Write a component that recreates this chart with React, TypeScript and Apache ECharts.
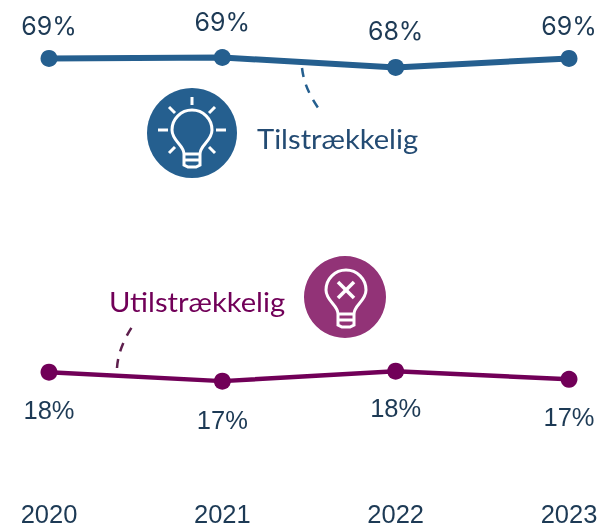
import React, { useEffect, useRef } from "react";
import * as echarts from "echarts";

const years = ["2020", "2021", "2022", "2023"];
const sufficient = [69, 69.1, 68, 69];
const insufficient = [18, 17, 18.1, 17.2];
const sufficientLabels = ["69%", "69%", "68%", "69%"];
const insufficientLabels = ["18%", "17%", "18%", "17%"];
const sufficientLabelShift = [-1, -5, -5, -1];
const insufficientLabelShift = [2, 3, 1, 2];

const BLUE = "#255f8f";
const PURPLE = "#710058";
const BADGE = "#923377";
const INK = "#1d3a55";

const bulbPath =
  "M -8 22 C -8 13 -20 9 -20 -2 A 20 20 0 1 1 20 -2 C 20 9 8 13 8 22 Z M -8 22 L -8 33 L -4 35 L 4 35 L 8 33 L 8 22 M -8 28 L 7 28";
echarts.graphic.registerShape("bulbIcon", echarts.graphic.extendPath(bulbPath, {}) as any);

export default function App() {
  const ref = useRef<HTMLDivElement>(null);
  useEffect(() => {
    const chart = echarts.init(ref.current!, undefined, { renderer: "svg" });
    const ray = (x1: number, y1: number, x2: number, y2: number, lineWidth = 3) => ({
      type: "line",
      shape: { x1, y1, x2, y2 },
      style: { stroke: "#fff", lineWidth },
    });
    const seriesOf = (
      name: string,
      yAxisIndex: number,
      data: number[],
      labels: string[],
      shift: number[],
      color: string,
      width: number,
      position: "top" | "bottom",
      fontFamily: string,
      fontSize: number
    ) => ({
      name,
      type: "line",
      yAxisIndex,
      symbol: "circle",
      symbolSize: 17,
      lineStyle: { color, width },
      itemStyle: { color },
      silent: true,
      data: data.map((value, i) => ({
        value,
        label: {
          show: true,
          position,
          distance: position === "top" ? 10 : 14,
          offset: [0, shift[i]],
          formatter: labels[i],
          color: INK,
          fontSize,
          fontFamily,
        },
      })),
    });
    chart.setOption({
      animation: false,
      grid: { left: 49, right: 32, top: 0.5, bottom: 26.5, containLabel: false },
      xAxis: {
        type: "category",
        data: years,
        boundaryGap: false,
        axisLine: { show: false },
        axisTick: { show: false },
        axisLabel: {
          color: INK,
          fontSize: 25.5,
          fontFamily: "Liberation Sans",
          margin: 1,
          verticalAlign: "top",
          hideOverlap: false,
          interval: 0,
        },
      },
      yAxis: [
        { type: "value", min: 19.89, max: 75.44, show: false, splitLine: { show: false } },
        { type: "value", min: 3.78, max: 59.33, show: false, splitLine: { show: false } },
      ],
      series: [
        seriesOf("Tilstrækkelig", 0, sufficient, sufficientLabels, sufficientLabelShift, BLUE, 6, "top", "Inter", 25),
        seriesOf("Utilstrækkelig", 1, insufficient, insufficientLabels, insufficientLabelShift, PURPLE, 4.5, "bottom", "Liberation Sans", 25.5),
      ],
      graphic: [
        { type: "circle", shape: { cx: 192, cy: 133, r: 45 }, style: { fill: BLUE } },
        { type: "bulbIcon", x: 192, y: 132, style: { fill: "none", stroke: "#fff", lineWidth: 3 } },
        ray(192, 97, 192, 105),
        ray(158, 130, 168, 130),
        ray(216, 130, 226, 130),
        ray(169, 107, 175, 113),
        ray(215, 107, 209, 113),
        ray(169, 153, 175, 147),
        ray(215, 153, 209, 147),
        { type: "circle", shape: { cx: 345, cy: 297, r: 41 }, style: { fill: BADGE } },
        { type: "bulbIcon", x: 346, y: 292, style: { fill: "none", stroke: "#fff", lineWidth: 3 } },
        ray(338, 282, 354, 298, 3.5),
        ray(354, 282, 338, 298, 3.5),
        {
          type: "bezierCurve",
          shape: { x1: 302, y1: 68, cpx1: 304, cpy1: 85, cpx2: 311, cpy2: 98, x2: 321, y2: 112 },
          style: { stroke: BLUE, lineWidth: 2.5, fill: "none", lineDash: [9, 8] },
        },
        {
          type: "bezierCurve",
          shape: { x1: 117, y1: 368, cpx1: 118, cpy1: 352, cpx2: 125, cpy2: 337, x2: 134, y2: 324 },
          style: { stroke: "#5e1f4d", lineWidth: 2.5, fill: "none", lineDash: [9, 8] },
        },
        {
          type: "text",
          x: 257,
          y: 138,
          scaleX: 1.08,
          style: { text: "Tilstrækkelig", fill: "#234b73", fontSize: 27, fontFamily: "Lato", textVerticalAlign: "middle" },
        },
        {
          type: "text",
          x: 109,
          y: 301,
          scaleX: 1.08,
          style: { text: "Utilstrækkelig", fill: PURPLE, fontSize: 27, fontFamily: "Lato", textVerticalAlign: "middle" },
        },
      ],
    });
    return () => chart.dispose();
  }, []);
  return <div ref={ref} style={{ position: "fixed", left: 0, top: 0, width: 601, height: 527 }} />;
}
